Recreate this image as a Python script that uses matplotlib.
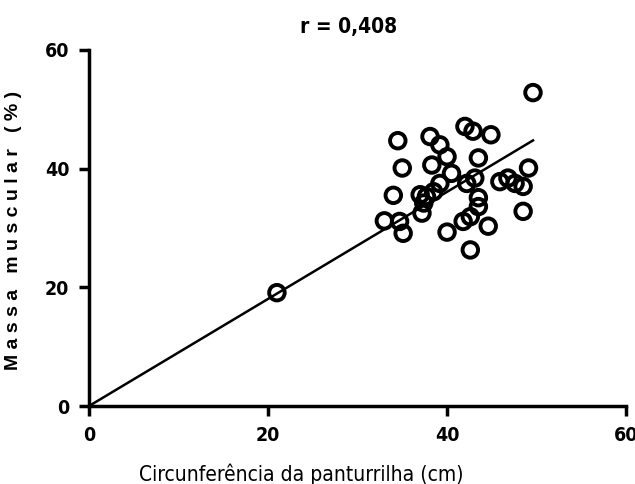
import numpy as np
import matplotlib
matplotlib.use("Agg")
import matplotlib.pyplot as plt

# calf circumference (cm) vs muscle mass (%)
circ = [21.0, 33.0, 34.0, 34.5, 35.0, 34.7, 35.1, 38.1, 39.2, 40.0, 38.3, 40.5,
        39.2, 38.5, 37.0, 37.7, 37.2, 37.4, 42.0, 42.9, 44.9, 43.5, 42.2, 43.1,
        43.5, 43.5, 41.8, 42.6, 44.6, 40.0, 42.6, 45.9, 46.8, 47.6, 48.5, 49.1,
        48.5, 49.6]
massa = [19.1, 31.2, 35.5, 44.7, 40.1, 31.1, 29.1, 45.4, 44.0, 42.0, 40.6, 39.2,
         37.5, 36.1, 35.6, 35.3, 32.5, 34.2, 47.1, 46.3, 45.7, 41.8, 37.5, 38.4,
         35.1, 33.6, 31.1, 31.9, 30.3, 29.3, 26.3, 37.8, 38.4, 37.5, 37.0, 40.1,
         32.8, 52.8]
ticks = [0, 20, 40, 60]
title = "r = 0,408"

plt.rcParams['font.family'] = ['DejaVu Sans']
plt.rcParams['font.stretch'] = 'condensed'

x = np.array(circ)
y = np.array(massa)
slope = np.sum(x * y) / np.sum(x * x)  # fit through origin

fig = plt.figure(figsize=(6.35, 4.84), dpi=100)
ax = fig.add_axes([0.140, 0.161, 0.846, 0.736])

xl = np.array([0, x.max()])
ax.plot(xl, slope * xl, color='black', lw=1.8, zorder=2, clip_on=False)
ax.scatter(x, y, s=125, facecolors='none', edgecolors='black', linewidths=2.8,
           zorder=3, clip_on=False)

ax.set_xlim(0, 60)
ax.set_ylim(0, 60)
ax.set_xticks(ticks)
ax.set_yticks(ticks)
for sp in ['top', 'right']:
    ax.spines[sp].set_visible(False)
for sp in ['left', 'bottom']:
    ax.spines[sp].set_linewidth(2.5)
ax.tick_params(width=2.5, length=7, direction='out', labelsize=14, pad=7)
for lab in ax.get_xticklabels() + ax.get_yticklabels():
    lab.set_fontweight('bold')

ax.set_xlabel("Circunferência da panturrilha (cm)", fontsize=15)
ax.xaxis.set_label_coords(0.395, -0.160)
ax.set_ylabel("M a s s a   m u s c u l a r   ( % )", fontsize=14, fontweight='bold',
              family=['Liberation Sans', 'DejaVu Sans'])
ax.yaxis.set_label_coords(-0.125, 0.494)
ax.set_title(title, fontsize=15, fontweight='bold', x=0.484, pad=12)

fig.savefig("out.png", dpi=100)
